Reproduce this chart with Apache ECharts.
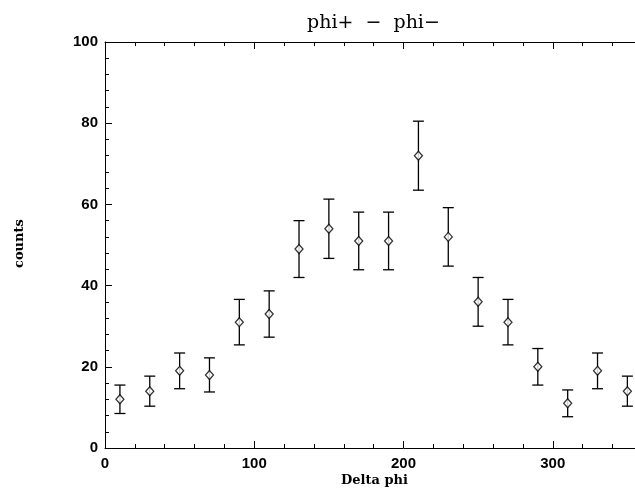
<!DOCTYPE html>
<html>
<head>
<meta charset="utf-8">
<script src="https://cdn.jsdelivr.net/npm/echarts@6/dist/echarts.min.js"></script>
<style>
html,body{margin:0;padding:0;background:#fff;overflow:hidden;}
#chart{width:702px;height:494px;}
</style>
</head>
<body>
<div id="chart"></div>
<script>
const phi = [10,30,50,70,90,110,130,150,170,190,210,230,250,270,290,310,330,350];
const counts = [12,14,19,18,31,33,49,54,51,51,72,52,36,31,20,11,19,14];
const errors = [3.5,3.7,4.4,4.2,5.6,5.7,7.0,7.3,7.1,7.1,8.5,7.2,6.0,5.6,4.5,3.3,4.4,3.7];
const xTicks = [0,100,200,300];
const yTicks = [0,20,40,60,80,100];

const pts = phi.map((x,i)=>[x,counts[i]]);
const errData = phi.map((x,i)=>[x,counts[i]-errors[i],counts[i]+errors[i]]);

const chart = echarts.init(document.getElementById('chart'), null, {renderer:'canvas'});
const labelFont = {color:'#000', fontFamily:'Liberation Sans', fontSize:15, fontWeight:'bold'};
const axisCommon = {
  axisLine:{show:true, onZero:false, lineStyle:{color:'#000', width:1}},
  axisTick:{show:true, inside:true, length:7, lineStyle:{color:'#000'}},
  minorTick:{show:true, splitNumber:5, length:4, lineStyle:{color:'#000'}},
  splitLine:{show:false},
  minorSplitLine:{show:false}
};
chart.setOption({
  animation:false,
  backgroundColor:'#fff',
  title:{
    text:'phi+  \u2212  phi\u2212',
    left:302, top:9,
    textStyle:{fontFamily:'DejaVu Serif', fontSize:19, fontWeight:'normal', color:'#000'}
  },
  graphic:[
    {type:'text', left:341, top:474, style:{text:'Delta phi', font:'bold 13px "DejaVu Serif"', fill:'#000'}},
    {type:'text', x:13, y:268, rotation:Math.PI/2, style:{text:'counts', font:'bold 13px "DejaVu Serif"', fill:'#000'}}
  ],
  grid:{left:105, top:42, right:0, bottom:46, containLabel:false},
  xAxis:[
    Object.assign({
      type:'value', position:'bottom', min:0, max:400, interval:100,
      axisLabel:{show:true, margin:8, showMaxLabel:false, ...labelFont,
        formatter:v=> xTicks.includes(v) ? String(v) : ''}
    }, axisCommon),
    Object.assign({
      type:'value', position:'top', min:0, max:400, interval:100,
      axisLabel:{show:false}
    }, axisCommon)
  ],
  yAxis:[
    Object.assign({
      type:'value', position:'left', min:0, max:100, interval:20,
      axisLabel:{show:true, margin:7, ...labelFont,
        formatter:v=> yTicks.includes(v) ? String(v) : ''}
    }, axisCommon)
  ],
  series:[
    {
      type:'custom',
      xAxisIndex:0, yAxisIndex:0,
      data:errData,
      encode:{x:0, y:[1,2]},
      renderItem:function(params, api){
        const x = api.value(0);
        const lo = api.coord([x, api.value(1)]);
        const hi = api.coord([x, api.value(2)]);
        const hw = 5.5;
        const st = {stroke:'#000', lineWidth:1.3};
        return {type:'group', children:[
          {type:'line', shape:{x1:lo[0], y1:lo[1], x2:hi[0], y2:hi[1]}, style:st},
          {type:'line', shape:{x1:lo[0]-hw, y1:lo[1], x2:lo[0]+hw, y2:lo[1]}, style:st},
          {type:'line', shape:{x1:hi[0]-hw, y1:hi[1], x2:hi[0]+hw, y2:hi[1]}, style:st}
        ]};
      },
      z:2
    },
    {
      type:'scatter',
      xAxisIndex:0, yAxisIndex:0,
      data:pts,
      symbol:'diamond',
      symbolSize:[8,9],
      itemStyle:{color:'#fff', borderColor:'#000', borderWidth:1.3},
      z:3
    }
  ]
});
</script>
</body>
</html>
